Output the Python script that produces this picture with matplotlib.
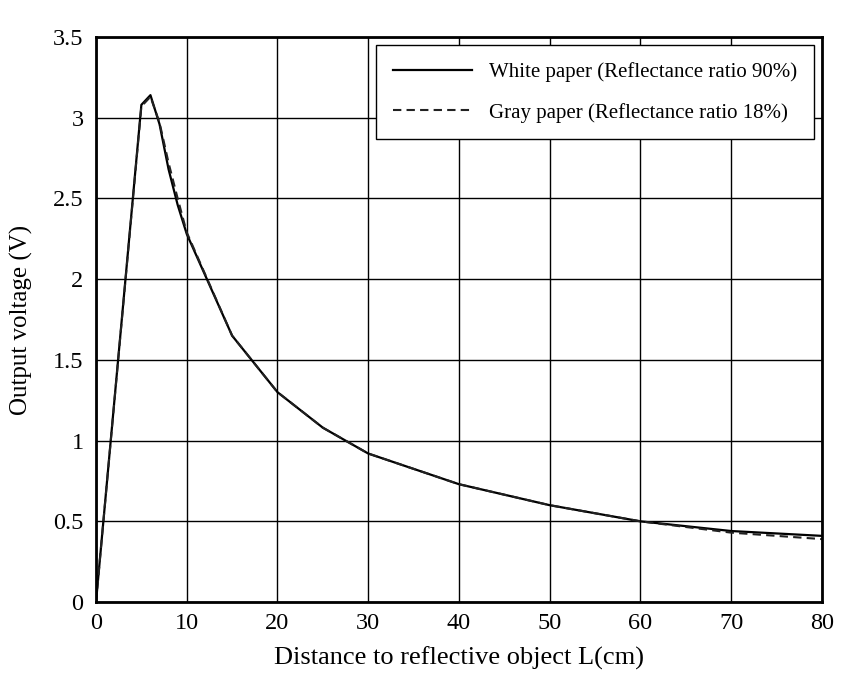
import matplotlib
matplotlib.use('Agg')
import matplotlib.pyplot as plt

# distance (cm) and output voltage (V)
dist = [0, 5, 6, 7, 8, 9, 10, 15, 20, 25, 30, 40, 50, 60, 70, 80]
white_v = [0, 3.08, 3.14, 2.96, 2.68, 2.46, 2.28, 1.65, 1.30, 1.08, 0.92, 0.73, 0.60, 0.50, 0.44, 0.41]
gray_v = [0, 3.07, 3.13, 2.97, 2.72, 2.50, 2.29, 1.65, 1.30, 1.08, 0.92, 0.73, 0.60, 0.50, 0.43, 0.39]

plt.rcParams['font.family'] = ['Liberation Serif', 'DejaVu Serif']

fig = plt.figure(figsize=(8.68, 6.78), dpi=100)
ax = fig.add_axes([0.1106, 0.112, 0.8364, 0.8334])

ax.plot(dist, white_v, color='black', lw=1.6, label='White paper (Reflectance ratio 90%)')
ax.plot(dist, gray_v, color='#222222', lw=1.5, ls=(0, (4, 2.5)), label='Gray paper (Reflectance ratio 18%)')

ax.set_xlim(0, 80)
ax.set_ylim(0, 3.5)
ax.set_xticks(range(0, 81, 10))
ax.set_yticks([0, 0.5, 1, 1.5, 2, 2.5, 3, 3.5])
ax.set_yticklabels(['0', '0.5', '1', '1.5', '2', '2.5', '3', '3.5'])
ax.grid(True, color='black', lw=1)
ax.tick_params(length=0, labelsize=17.5)
ax.tick_params(axis='x', pad=8)
ax.tick_params(axis='y', pad=9)
for s in ax.spines.values():
    s.set_linewidth(2)

ax.set_xlabel('Distance to reflective object L(cm)', fontsize=19, labelpad=9)
ax.set_ylabel('Output voltage (V)', fontsize=18, labelpad=14)

leg = ax.legend(loc='upper right', fontsize=15, frameon=True, fancybox=False,
                edgecolor='black', framealpha=1, handlelength=3.8, borderpad=0.8,
                labelspacing=1.0, handletextpad=0.8, borderaxespad=0.4)
leg.get_frame().set_linewidth(1)

fig.savefig('out.png', dpi=100)
